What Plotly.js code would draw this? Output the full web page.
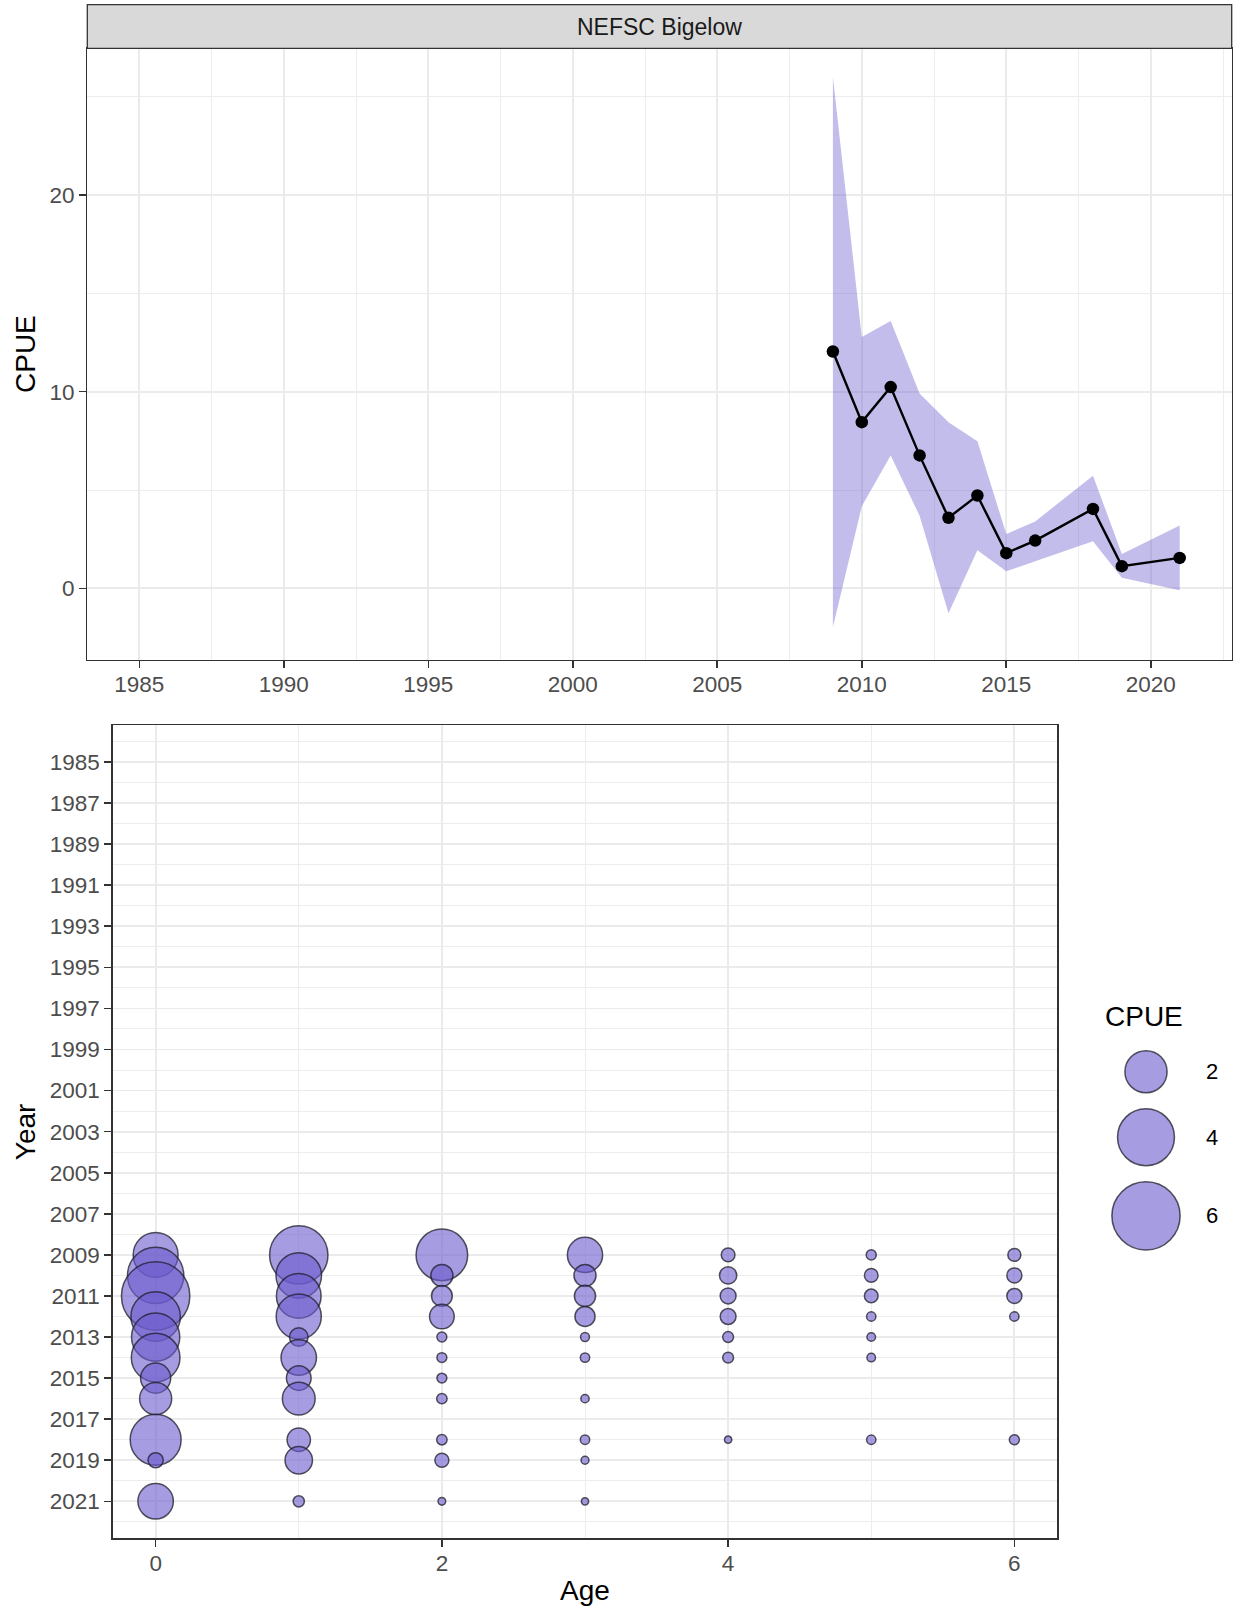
<!DOCTYPE html>
<html>
<head>
<meta charset="utf-8">
<script src="https://cdn.plot.ly/plotly-3.0.1.min.js"></script>
<style>html,body{margin:0;padding:0;background:#fff;}</style>
</head>
<body>
<div id="chart" style="width:1236px;height:1610px;"></div>
<script>
// ---------- Data: top panel (index by year) ----------
const surveyName = "NEFSC Bigelow";
const surveyYears = [2009, 2010, 2011, 2012, 2013, 2014, 2015, 2016, 2018, 2019, 2021];
const cpueIndex   = [12.04, 8.45, 10.23, 6.76, 3.59, 4.72, 1.79, 2.43, 4.04, 1.13, 1.55];
const cpueUpper   = [26.0, 12.78, 13.59, 9.90, 8.45, 7.48, 2.76, 3.40, 5.73, 1.75, 3.20];
const cpueLower   = [-1.98, 4.17, 6.76, 3.69, -1.26, 1.94, 0.87, 1.38, 2.39, 0.54, -0.10];

// ---------- Data: bottom panel (CPUE at age) ----------
const bubbleAges  = [0,0,0,0,0,0,0,0,0,0,0,
                     1,1,1,1,1,1,1,1,1,1,1,
                     2,2,2,2,2,2,2,2,2,2,2,
                     3,3,3,3,3,3,3,3,3,3,
                     4,4,4,4,4,4,4,
                     5,5,5,5,5,5,5,
                     6,6,6,6,6];
const bubbleYears = [2009,2010,2011,2012,2013,2014,2015,2016,2018,2019,2021,
                     2009,2010,2011,2012,2013,2014,2015,2016,2018,2019,2021,
                     2009,2010,2011,2012,2013,2014,2015,2016,2018,2019,2021,
                     2009,2010,2011,2012,2013,2014,2016,2018,2019,2021,
                     2009,2010,2011,2012,2013,2014,2018,
                     2009,2010,2011,2012,2013,2014,2018,
                     2009,2010,2011,2012,2018];
const bubbleCPUE  = [2.32,3.90,6.03,2.90,2.75,2.80,0.88,1.03,3.11,0.12,1.32,
                     4.23,2.40,2.30,2.35,0.23,1.32,0.52,1.09,0.45,0.69,0.035,
                     3.20,0.38,0.32,0.52,0.018,0.018,0.018,0.024,0.024,0.088,0.002,
                     1.30,0.38,0.34,0.29,0.009,0.013,0.005,0.013,0.003,0.001,
                     0.081,0.183,0.138,0.138,0.030,0.030,0.001,
                     0.020,0.081,0.081,0.0125,0.007,0.007,0.0125,
                     0.066,0.116,0.116,0.0125,0.020];
const legendValues = [2, 4, 6];
const legendLabels = ["2", "4", "6"];

// ---------- Helpers ----------
const W = 1236, H = 1610;
const px = x => x / W;
const py = y => 1 - y / H;
const FONT = "Liberation Sans, Arial, Helvetica, sans-serif";
const bubbleDiameter = v => 6.5 + 25.2 * Math.sqrt(v);   // marker size (area-like scale)
const FILL = "rgba(106,90,205,0.6)";
const STROKE = "rgba(30,30,40,0.75)";

// legend key positions, derived from key sizes
const keyPad = 14.5;
const legendY = [];
{
  let acc = 2.65;
  legendValues.forEach(v => {
    const h = bubbleDiameter(v) + 1.5 + keyPad;
    legendY.push(acc + h / 2);
    acc += h;
  });
}

const traces = [
  {
    x: surveyYears.concat(surveyYears.slice().reverse()),
    y: cpueUpper.concat(cpueLower.slice().reverse()),
    xaxis: "x", yaxis: "y",
    mode: "lines", fill: "toself",
    fillcolor: "rgba(106,90,205,0.4)",
    line: {width: 0}, hoverinfo: "skip", showlegend: false
  },
  {
    x: surveyYears, y: cpueIndex,
    xaxis: "x", yaxis: "y",
    mode: "lines+markers",
    line: {color: "#000000", width: 2.4},
    marker: {color: "#000000", size: 12.5},
    showlegend: false
  },
  {
    x: bubbleAges, y: bubbleYears,
    xaxis: "x2", yaxis: "y2",
    mode: "markers",
    marker: {
      size: bubbleCPUE.map(bubbleDiameter),
      sizemode: "diameter",
      opacity: 1,
      color: FILL,
      line: {color: STROKE, width: 1.5}
    },
    showlegend: false
  },
  {
    x: legendValues.map(() => 0), y: legendY,
    xaxis: "x3", yaxis: "y3",
    mode: "markers",
    marker: {
      size: legendValues.map(bubbleDiameter),
      opacity: 1,
      color: FILL,
      line: {color: STROKE, width: 1.5}
    },
    showlegend: false
  }
];

const gridMajor = "#EBEBEB";
const axisCommon = {
  showline: true, mirror: true, linecolor: "#333333", linewidth: 1.3,
  ticks: "outside", ticklen: 7, tickwidth: 1.6, tickcolor: "#333333",
  tickfont: {family: FONT, size: 22.5, color: "#4D4D4D"},
  showgrid: true, gridcolor: gridMajor, gridwidth: 1.8,
  zeroline: false, fixedrange: true
};

const layout = {
  width: W, height: H,
  margin: {l: 0, r: 0, t: 0, b: 0},
  paper_bgcolor: "#FFFFFF", plot_bgcolor: "#FFFFFF",
  font: {family: FONT},
  showlegend: false,
  xaxis: Object.assign({}, axisCommon, {
    domain: [px(87.3), px(1231.7)],
    range: [1983.2, 2022.8],
    tick0: 1985, dtick: 5,
    ticklabelstandoff: -3,
    minor: {tick0: 1985, dtick: 2.5, showgrid: true, gridcolor: gridMajor, gridwidth: 0.9, ticks: ""},
    anchor: "y"
  }),
  yaxis: Object.assign({}, axisCommon, {
    domain: [py(660), py(48.3)],
    range: [-3.64, 27.45],
    tick0: 0, dtick: 10,
    minor: {tick0: 0, dtick: 5, showgrid: true, gridcolor: gridMajor, gridwidth: 0.9, ticks: ""},
    anchor: "x"
  }),
  xaxis2: Object.assign({}, axisCommon, {
    domain: [px(112.7), px(1057.3)],
    range: [-0.3, 6.3],
    tick0: 0, dtick: 2,
    ticklabelstandoff: -3,
    minor: {tick0: 0, dtick: 1, showgrid: true, gridcolor: gridMajor, gridwidth: 0.9, ticks: ""},
    anchor: "y2"
  }),
  yaxis2: Object.assign({}, axisCommon, {
    domain: [py(1538.3), py(725)],
    range: [2022.8, 1983.2],
    tick0: 1985, dtick: 2,
    minor: {tick0: 1985, dtick: 1, showgrid: true, gridcolor: gridMajor, gridwidth: 0.9, ticks: ""},
    anchor: "x2"
  }),
  xaxis3: {domain: [px(1101), px(1191)], range: [-45, 45], visible: false, fixedrange: true, anchor: "y3"},
  yaxis3: {domain: [py(1260), py(1040)], range: [220, 0], visible: false, fixedrange: true, anchor: "x3"},
  shapes: [
    {type: "rect", xref: "paper", yref: "paper",
     x0: px(87.3), x1: px(1231.7), y0: py(48.3), y1: py(4.7),
     fillcolor: "#D9D9D9", line: {color: "#333333", width: 1.3}}
  ],
  annotations: [
    {text: surveyName, xref: "paper", yref: "paper", x: px((87.3 + 1231.7) / 2), y: py(26.5),
     xanchor: "center", yanchor: "middle", showarrow: false,
     font: {family: FONT, size: 23, color: "#1A1A1A"}},
    {text: "CPUE", xref: "paper", yref: "paper", x: px(25), y: py(354), textangle: -90,
     xanchor: "center", yanchor: "middle", showarrow: false,
     font: {family: FONT, size: 28, color: "#000000"}},
    {text: "Year", xref: "paper", yref: "paper", x: px(25.7), y: py(1131.5), textangle: -90,
     xanchor: "center", yanchor: "middle", showarrow: false,
     font: {family: FONT, size: 28, color: "#000000"}},
    {text: "Age", xref: "paper", yref: "paper", x: px(585), y: py(1590),
     xanchor: "center", yanchor: "middle", showarrow: false,
     font: {family: FONT, size: 28, color: "#000000"}},
    {text: "CPUE", xref: "paper", yref: "paper", x: px(1103.3), y: py(1016.7),
     xanchor: "left", yanchor: "middle", showarrow: false,
     font: {family: FONT, size: 28, color: "#000000"}}
  ].concat(legendLabels.map((lab, i) => ({
    text: lab, xref: "paper", yref: "y3", x: px(1204), y: legendY[i],
    xanchor: "left", yanchor: "middle", showarrow: false,
    font: {family: FONT, size: 22, color: "#000000"}
  })))
};

Plotly.newPlot("chart", traces, layout, {staticPlot: true, displayModeBar: false});
</script>
</body>
</html>
